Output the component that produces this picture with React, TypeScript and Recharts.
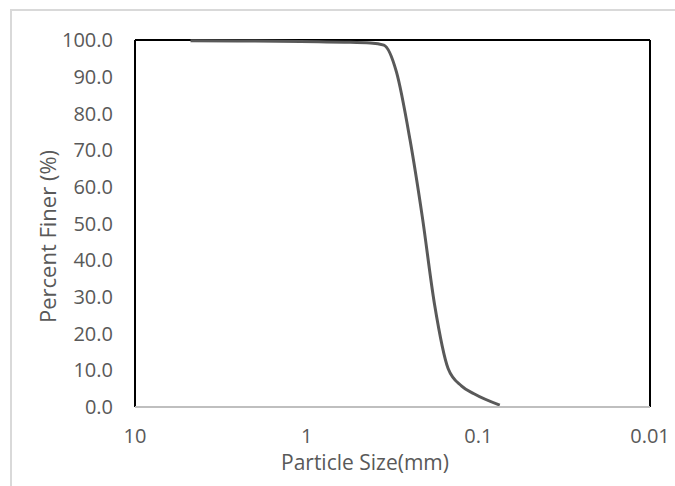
import React from 'react';
import { LineChart, Line, XAxis, YAxis, ReferenceLine } from 'recharts';

// Gradation data (sieve size in mm, percent finer)
const sieveSizes = [4.75, 2.0, 0.85, 0.6, 0.425, 0.355, 0.3, 0.25, 0.212, 0.18, 0.15, 0.125, 0.106, 0.075];
const percentFiner = [99.8, 99.7, 99.5, 99.4, 99.2, 98.6, 91.3, 72.8, 51.8, 28.0, 10.5, 5.7, 3.6, 0.5];

const xTicks = [10, 1, 0.1, 0.01];
const yTicks = [0, 10, 20, 30, 40, 50, 60, 70, 80, 90, 100];

const data = sieveSizes.map((size, i) => ({ size, finer: percentFiner[i] }));

const FONT = '"Open Sans", sans-serif';
const TEXT = '#595959';

const YTitle = ({ viewBox }: any) => {
  const cx = 47;
  const cy = viewBox.y + viewBox.height / 2 + 13;
  return (
    <text x={cx} y={cy} transform={`rotate(-90, ${cx}, ${cy})`} textAnchor="middle" dominantBaseline="central"
      fill={TEXT} fontSize={22} fontFamily={FONT}>
      Percent Finer (%)
    </text>
  );
};

const XTitle = ({ viewBox }: any) => (
  <text x={365} y={viewBox.y + 55} textAnchor="middle" dominantBaseline="central"
    fill={TEXT} fontSize={21} fontFamily={FONT}>
    Particle Size(mm)
  </text>
);

export default function App() {
  return (
    <div style={{ position: 'absolute', left: 0, top: 0, width: 675, height: 486, background: '#fff' }}>
      <div style={{ position: 'absolute', left: 10, top: 9, right: 0, bottom: 0, borderTop: '2px solid #d9d9d9', borderLeft: '2px solid #d9d9d9' }} />
      <div style={{ position: 'absolute', left: 0, top: 0 }}>
        <LineChart width={675} height={486} data={data} margin={{ top: 40, right: 25, bottom: 0, left: 0 }}>
          <YAxis type="number" domain={[0, 100]} ticks={yTicks} width={135} tickSize={0} tickMargin={22}
            tickFormatter={(v: number) => v.toFixed(1)} tickLine={false}
            axisLine={{ stroke: '#000', strokeWidth: 2 }}
            tick={{ fill: TEXT, fontSize: 20, fontFamily: FONT }}
            label={<YTitle />} />
          <XAxis dataKey="size" type="number" scale="log" domain={[0.01, 10]} reversed allowDataOverflow
            ticks={xTicks} height={79} tickSize={0} tickMargin={22} tickLine={false}
            tickFormatter={(v: number) => String(v)}
            axisLine={{ stroke: '#bfbfbf', strokeWidth: 2 }}
            tick={{ fill: TEXT, fontSize: 20, fontFamily: FONT }}
            label={<XTitle />} />
          <ReferenceLine y={100} stroke="#000" strokeWidth={2} />
          <ReferenceLine x={0.01} stroke="#000" strokeWidth={2} />
          <Line type="monotone" dataKey="finer" stroke="#595959" strokeWidth={3} dot={false} isAnimationActive={false} />
        </LineChart>
      </div>
    </div>
  );
}
